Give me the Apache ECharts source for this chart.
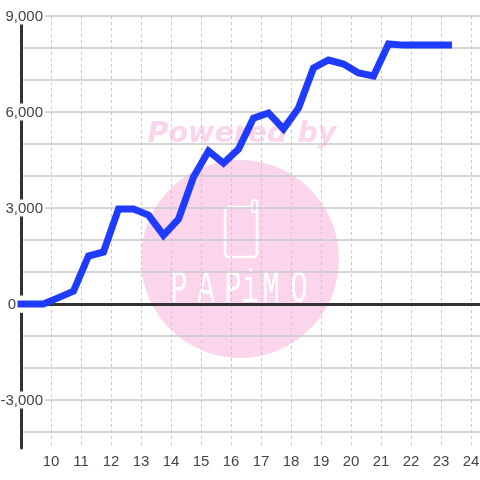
<!DOCTYPE html>
<html>
<head>
<meta charset="utf-8">
<script src="https://cdn.jsdelivr.net/npm/echarts@6/dist/echarts.min.js"></script>
<style>
  html, body { margin: 0; padding: 0; background: #fff; }
  #chart { width: 480px; height: 480px; }
</style>
</head>
<body>
<div id="chart"></div>
<script>
const hours = [9, 9.25, 9.75, 10.25, 10.75, 11.25, 11.75, 12.25, 12.75, 13.25, 13.75, 14.25, 14.75, 15.25, 15.75, 16.25, 16.75, 17.25, 17.75, 18.25, 18.75, 19.25, 19.75, 20.25, 20.75, 21.25, 21.75, 22.25, 22.75, 23.25]
const values = [0, 0, 0, 200, 400, 1500, 1625, 2970, 2970, 2780, 2150, 2650, 3970, 4780, 4400, 4840, 5810, 5970, 5470, 6125, 7375, 7625, 7500, 7220, 7125, 8125, 8090, 8090, 8090, 8090]
const labelledTicks = [-3000, 0, 3000, 6000, 9000]
const logoLetters = ['P', 'A', 'P', 'i', 'M', 'O']
const logoCentres = [179, 206, 233, 250, 271, 299]

const pink = '#fbd5ec'
const ink = '#333333'
const grey = '#c8c8c8'

const chart = echarts.init(document.getElementById('chart'))

const xShared = {
  type: 'value',
  min: 9,
  max: 24.3,
  interval: 1
}

chart.setOption({
  animation: false,
  backgroundColor: '#ffffff',
  textStyle: { fontFamily: 'Liberation Sans' },
  grid: { left: 21, right: 0, top: 16, bottom: 32, outerBoundsMode: 'none' },
  graphic: [
    { type: 'circle', z: -1, silent: true, shape: { cx: 240, cy: 259, r: 99 }, style: { fill: pink } },
    {
      type: 'text', z: -1, silent: true, x: 242, y: 135,
      style: { text: 'Powered by', fill: pink, font: 'italic bold 28.5px "DejaVu Sans"', align: 'center', verticalAlign: 'middle' }
    },
    { type: 'rect', z: -1, silent: true, shape: { x: 225, y: 207, width: 32, height: 50, r: 4 }, style: { fill: 'none', stroke: '#ffffff', lineWidth: 2.5 } },
    { type: 'rect', z: -1, silent: true, shape: { x: 252, y: 200, width: 5, height: 12, r: 2.5 }, style: { fill: pink, stroke: '#ffffff', lineWidth: 2 } },
    ...logoLetters.map((letter, i) => ({
      type: 'text', z: -1, silent: true, x: logoCentres[i], y: 290, scaleX: 0.62,
      style: { text: letter, fill: '#ffffff', font: '46px "Liberation Mono"', align: 'center', verticalAlign: 'middle' }
    }))
  ],
  xAxis: [
    {
      ...xShared,
      position: 'bottom',
      axisLine: { show: false, onZero: false },
      axisTick: { show: false },
      axisLabel: {
        color: '#444444',
        fontSize: 15,
        margin: 6,
        showMinLabel: false,
        showMaxLabel: false,
        formatter: v => (Number.isInteger(v) ? String(v) : '')
      },
      splitLine: {
        show: true,
        showMinLine: false,
        showMaxLine: false,
        lineStyle: { color: grey, width: 1, type: [3, 3] }
      }
    },
    {
      ...xShared,
      position: 'bottom',
      axisLine: { show: true, onZero: true, lineStyle: { color: ink, width: 3 } },
      axisTick: { show: false },
      axisLabel: { show: false },
      splitLine: { show: false }
    }
  ],
  yAxis: {
    type: 'value',
    min: -4500,
    max: 9000,
    interval: 500,
    axisLine: { show: true, onZero: false, lineStyle: { color: ink, width: 3 } },
    axisTick: { show: false },
    axisLabel: {
      inside: true,
      align: 'right',
      margin: 24,
      color: '#444444',
      fontSize: 15,
      backgroundColor: '#ffffff',
      padding: [2, 2, 0, 0],
      formatter: v => {
        if (!labelledTicks.includes(v)) return ''
        return v === 0 ? '{zero|0}' : v.toLocaleString('en-US')
      },
      rich: {
        zero: { color: '#444444', fontSize: 15, backgroundColor: '#ffffff', padding: [0, 27, 0, 0] }
      }
    },
    splitLine: {
      show: true,
      // ticks run every 500 from -4500, only the whole thousands get a line
      lineStyle: { color: ['transparent', grey], width: 1.5 }
    }
  },
  series: [
    {
      type: 'line',
      xAxisIndex: 0,
      data: hours.map((h, i) => [h, values[i]]),
      symbol: 'none',
      clip: false,
      z: 5,
      lineStyle: { color: '#1f3bff', width: 7, cap: 'square', join: 'miter' }
    }
  ]
})
</script>
</body>
</html>
